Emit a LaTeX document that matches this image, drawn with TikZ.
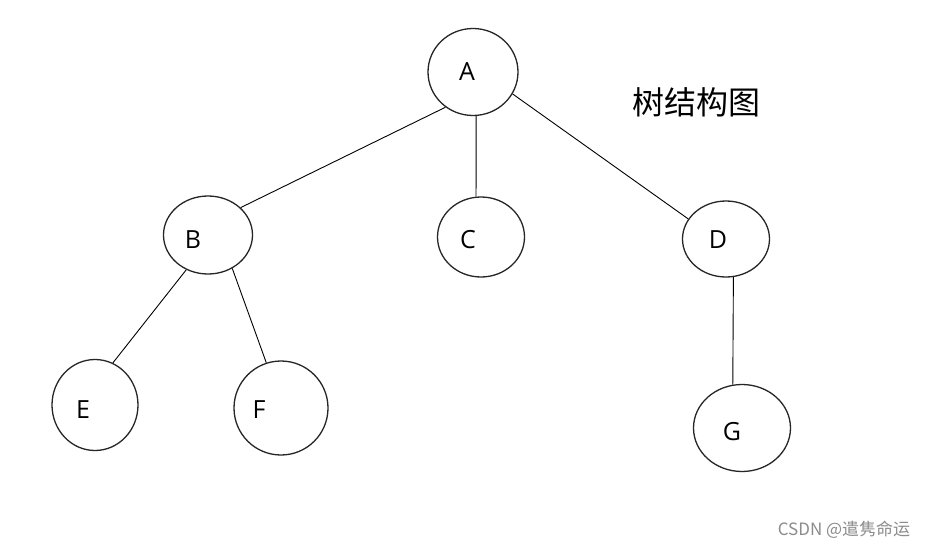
\documentclass[tikz,border=0pt]{standalone}
\usepackage{fontspec}
\setmainfont{Open Sans}
\newfontfamily\cjk{Noto Sans CJK SC}
\usetikzlibrary{shapes.geometric}
\begin{document}
\begin{tikzpicture}[x=1pt,y=-1pt,
  treenode/.style={ellipse,draw=black!85,line width=1.3pt,inner sep=0pt},
  edge/.style={draw=black,line width=0.9pt},
  lbl/.style={font=\fontsize{25}{25}\selectfont,inner sep=0pt}]
\useasboundingbox[fill=white] (0,0) rectangle (927,549);
\node[treenode,minimum width=90pt,minimum height=87pt,label={[lbl,xshift=-6pt]center:A}] (A) at (473,72) {};
\node[treenode,minimum width=89pt,minimum height=78pt,label={[lbl,xshift=-15pt,yshift=-5pt]center:B}] (B) at (208,235) {};
\node[treenode,minimum width=87pt,minimum height=80pt,label={[lbl,xshift=-13pt,yshift=-3pt]center:C}] (C) at (481,237) {};
\node[treenode,minimum width=87pt,minimum height=76pt,label={[lbl,xshift=-8pt,yshift=-1pt]center:D}] (D) at (726,239) {};
\node[treenode,minimum width=86pt,minimum height=91pt,label={[lbl,xshift=-12pt,yshift=-5pt]center:E}] (E) at (95,405) {};
\node[treenode,minimum width=94pt,minimum height=94pt,label={[lbl,xshift=-22pt,yshift=-2pt]center:F}] (F) at (281,408) {};
\node[treenode,minimum width=97pt,minimum height=87pt,label={[lbl,xshift=-10pt,yshift=-4pt]center:G}] (G) at (742,428) {};
\node[font=\cjk\fontsize{32}{32}\selectfont] (title) at (696,102) {树结构图};
\node[font=\cjk\fontsize{17}{17}\selectfont,text=black!45] (wm) at (844,530) {CSDN @遣隽命运};
\draw[edge] (A.232) -- (B.40);
\draw[edge] (A.274) -- (C.97);
\draw[edge] (A.331) -- (D.152);
\draw[edge] (B.238) -- (E.67);
\draw[edge] (B.306) -- (F.108);
\draw[edge] (D.281) -- (G.102);
\end{tikzpicture}
\end{document}
